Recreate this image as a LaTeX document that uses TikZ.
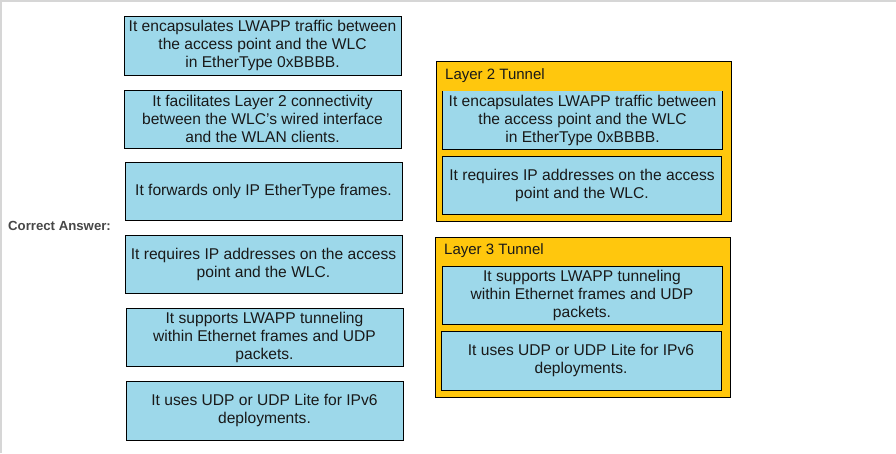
\documentclass[tikz,border=0pt]{standalone}
\usepackage{fontspec}
\setmainfont{Liberation Sans}
\definecolor{cardblue}{HTML}{9DD8EA}
\definecolor{zoneyellow}{HTML}{FFC70D}
\definecolor{frameline}{HTML}{D6D6D6}
\definecolor{answergrey}{HTML}{474747}
\begin{document}
\begin{tikzpicture}[x=1pt,y=-1pt,
  cardbase/.style={fill=cardblue, inner sep=0pt, align=center,
    font=\fontsize{15.6}{18}\selectfont, text=black!90},
  card/.style={cardbase, draw=black, line width=0.8pt},
  zone/.style={draw=black, line width=0.8pt, fill=zoneyellow, inner sep=0pt},
  zonetitle/.style={anchor=west, inner sep=0pt, font=\fontsize{15}{18}\selectfont, text=black!90},
  answer/.style={anchor=west, inner sep=0pt, font=\bfseries\fontsize{13.2}{15}\selectfont, text=answergrey}]
\useasboundingbox (0,0) rectangle (896,453);
\fill[white] (0,0) rectangle (896,453);
\draw[frameline, line width=1.5pt] (1,453) -- (1,0.75) -- (896,0.75);

% left cards
\node[card, minimum width=277, minimum height=59] (l1) at (262.5,45.5)
  {It encapsulates LWAPP traffic between\\the access point and the WLC\\in EtherType 0xBBBB.};
\node[card, minimum width=277, minimum height=58] (l2) at (262.5,119)
  {It facilitates Layer 2 connectivity\\between the WLC’s wired interface\\and the WLAN clients.};
\node[card, minimum width=277, minimum height=58] (l3) at (263.5,191)
  {It forwards only IP EtherType frames.};
\node[card, minimum width=277, minimum height=58] (l4) at (263.5,264)
  {It requires IP addresses on the access\\point and the WLC.};
\node[card, minimum width=277, minimum height=58] (l5) at (264.5,337)
  {It supports LWAPP tunneling\\within Ethernet frames and UDP\\packets.};
\node[card, minimum width=277, minimum height=59] (l6) at (264.5,410.5)
  {It uses UDP or UDP Lite for IPv6\\deployments.};

\node[answer] (ans) at (8,226) {Correct Answer:};

% Layer 2 zone
\node[zone, minimum width=295, minimum height=160] (z2) at (583.5,141) {};
\node[zonetitle] (z2t) at (445,76) {Layer 2 Tunnel};
\node[cardbase, minimum width=279, minimum height=58] (a1) at (582.5,120)
  {It encapsulates LWAPP traffic between\\the access point and the WLC\\in EtherType 0xBBBB.};
\draw[black, line width=0.8pt] (a1.north west) -- (a1.south west) -- (a1.south east) -- (a1.north east);
\node[card, minimum width=279, minimum height=58] (a2) at (582,185)
  {It requires IP addresses on the access\\point and the WLC.};

% Layer 3 zone
\node[zone, minimum width=295, minimum height=160] (z3) at (582.5,317) {};
\node[zonetitle] (z3t) at (444,251) {Layer 3 Tunnel};
\node[card, minimum width=280, minimum height=58] (b1) at (582,295)
  {It supports LWAPP tunneling\\within Ethernet frames and UDP\\packets.};
\node[card, minimum width=280, minimum height=59] (b2) at (581,360.5)
  {It uses UDP or UDP Lite for IPv6\\deployments.};
\end{tikzpicture}
\end{document}
